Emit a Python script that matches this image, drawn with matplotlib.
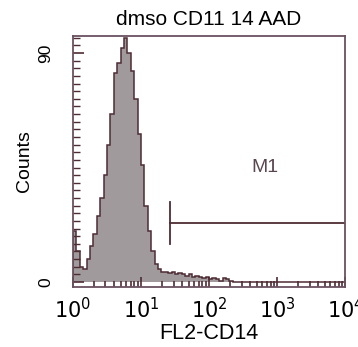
import matplotlib
matplotlib.use("Agg")
import matplotlib.pyplot as plt
import numpy as np
from matplotlib.ticker import FixedLocator, NullFormatter

plt.rcParams['font.family'] = ['Liberation Sans', 'DejaVu Sans']

# histogram: bins of 0.05 decades starting at 10^0
bin_width = 0.05
counts = [20, 12, 6, 5, 9, 14, 19, 26, 33, 42,
          54, 66, 82, 86, 92, 96, 90, 83, 72, 58,
          46, 30, 20, 12, 7, 5, 4, 4, 3.5, 4,
          3, 3.5, 3, 2.5, 3, 2, 2.5, 2, 1.5, 2,
          1, 1.5, 1, 0.5, 1.5, 1, 0.3]
n_bins = 80

title = "dmso CD11 14 AAD"
xlabel = "FL2-CD14"
ylabel = "Counts"
marker_name = "M1"
marker_lo, marker_hi = 27, 10**4
marker_level = 23

edge = '#4e2c34'
fill = '#a19a9c'
frame = '#6a5260'

vals = np.zeros(n_bins)
vals[:len(counts)] = counts
edges = 10 ** (np.arange(n_bins + 1) * bin_width)

fig = plt.figure(figsize=(3.58, 3.47), dpi=100)
ax = fig.add_axes([0.204, 0.173, 0.760, 0.723])

ax.stairs(vals, edges, fill=True, color=fill, baseline=0)
ax.stairs(vals, edges, color=edge, linewidth=1.1, baseline=0)

ax.set_xscale('log')
ax.set_xlim(1, 10**4)
ax.set_ylim(-2, 96.7)

# marker
ax.plot([marker_lo, marker_lo], [15, 31.5], color=edge, lw=1.3)
ax.plot([marker_lo, marker_hi], [marker_level, marker_level], color=edge, lw=1.3)
ax.text(10**2.82, 45, marker_name, ha='center', va='center', fontsize=14, color='#5a4650')

for s in ax.spines.values():
    s.set_color(frame)
    s.set_linewidth(1.3)

ax.set_xticks([1, 10, 100, 1000, 10000])
ax.set_xticklabels([r'$10^{%d}$' % i for i in range(5)])
ax.xaxis.set_minor_locator(FixedLocator(
    [m * 10**d for d in range(4) for m in range(2, 10)]))
ax.xaxis.set_minor_formatter(NullFormatter())
ax.tick_params(axis='x', which='major', direction='in', length=7, width=1.2,
               color=edge, labelsize=15, pad=7)
ax.tick_params(axis='x', which='minor', direction='in', length=4, width=1.2,
               color=edge)

ax.set_yticks([0, 90])
ax.set_yticklabels(['0', '90'], rotation=90, va='center')
ax.yaxis.set_minor_locator(FixedLocator(np.arange(0, 97, 3)))
ax.tick_params(axis='y', which='major', direction='in', length=8, width=1.2,
               color=edge, labelsize=12.5, pad=14)
ax.tick_params(axis='y', which='minor', direction='in', length=5, width=1.0,
               color=edge)

ax.set_xlabel(xlabel, fontsize=15.5, labelpad=1)
ax.set_ylabel(ylabel, fontsize=14, labelpad=4)
ax.set_title(title, fontsize=15, pad=8)

fig.savefig('out.png', dpi=100)
